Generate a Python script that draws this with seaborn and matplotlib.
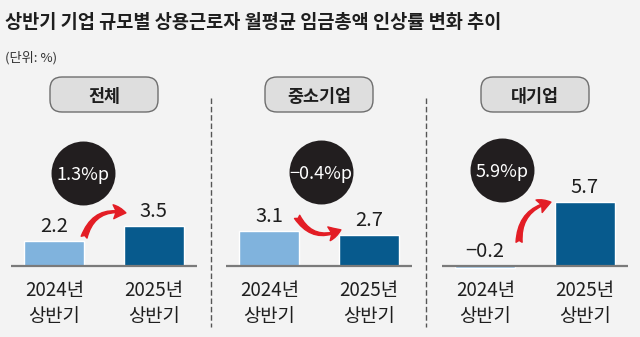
import matplotlib
matplotlib.use("Agg")
import matplotlib.pyplot as plt
from matplotlib.patches import FancyBboxPatch
from matplotlib.lines import Line2D
import seaborn as sns
import pandas as pd

# ---- data -------------------------------------------------------------
title = "상반기 기업 규모별 상용근로자 월평균 임금총액 인상률 변화 추이"
unit_note = "(단위: %)"
groups = ["전체", "중소기업", "대기업"]
periods = ["2024년\n상반기", "2025년\n상반기"]
rate_total = [2.2, 3.5]
rate_sme = [3.1, 2.7]
rate_large = [-0.2, 5.7]
group_values = [rate_total, rate_sme, rate_large]

# ---- style ------------------------------------------------------------
sns.set_theme(style="white")
FONTS = ["Noto Sans CJK KR", "DejaVu Sans"]
plt.rcParams["font.family"] = FONTS
plt.rcParams["axes.unicode_minus"] = True

BG = "#f3f3f3"
LIGHT = "#80b3dd"
DARK = "#075a8d"
RED = "#e31d25"
INK = "#1e1e1e"

W, H = 640, 337
fig = plt.figure(figsize=(W / 100, H / 100), dpi=100, facecolor=BG)

PX_PER_UNIT = 11.3
Y_MIN, Y_MAX = -1.0, 11.0
BASE_PX = 266  # zero line, from top
ax_h = (Y_MAX - Y_MIN) * PX_PER_UNIT
ax_bottom_px = BASE_PX - Y_MIN * PX_PER_UNIT
AX_W = 186
lefts = [11, 226, 442]
BAR_STEP = 99

# bubble / arrow placement for each panel (data units of its axes)
bubble_xy = [(0.29, 8.2), (0.52, 8.35), (0.17, 8.5)]
arrow_paths = [
    ((0.30, 2.55), (0.72, 4.70), -0.45),
    ((0.28, 4.35), (0.72, 3.20), 0.45),
    ((0.34, 2.10), (0.66, 5.65), -0.40),
]


def fmt(v):
    s = f"{v:.1f}"
    return s.replace("-", "\u2212")


for i, (name, vals) in enumerate(zip(groups, group_values)):
    ax = fig.add_axes([lefts[i] / W, (H - ax_bottom_px) / H, AX_W / W, ax_h / H])
    ax.set_facecolor(BG)
    df = pd.DataFrame({"period": periods, "rate": vals})
    sns.barplot(data=df, x="period", y="rate", hue="period",
                palette=[LIGHT, DARK], width=0.6, saturation=1,
                legend=False, ax=ax, zorder=2)
    ax.set_xlim(-43 / BAR_STEP, 1 + 43 / BAR_STEP)
    ax.set_ylim(Y_MIN, Y_MAX)
    ax.axhline(0, color="#7a7a7a", lw=1.6, zorder=3)
    for s in ax.spines.values():
        s.set_visible(False)
    ax.set_yticks([])
    ax.set_xlabel("")
    ax.set_ylabel("")
    ax.tick_params(axis="x", length=0, pad=2, labelsize=13.5, labelcolor=INK)
    for lab in ax.get_xticklabels():
        lab.set_linespacing(1.3)

    # value labels
    for x, v in enumerate(vals):
        ax.annotate(fmt(v), xy=(x, max(v, 0)), xytext=(0, 6.5),
                    textcoords="offset points", ha="center", va="baseline",
                    fontsize=14.5, color=INK, zorder=4)

    # change bubble
    diff = round(vals[1] - vals[0], 1)
    bx, by = bubble_xy[i]
    ax.scatter([bx], [by], s=2120, color="#221e1f", zorder=5, clip_on=False,
               linewidths=0)
    ax.text(bx, by, fmt(diff) + "%p", ha="center", va="center_baseline",
            fontsize=13, fontweight="medium", color="white", zorder=6,
            clip_on=False)

    # curved arrow
    (x0, y0), (x1, y1), rad = arrow_paths[i]
    ax.annotate("", xy=(x1, y1), xytext=(x0, y0),
                arrowprops=dict(arrowstyle="fancy,head_length=0.45,head_width=0.5,tail_width=0.22",
                                connectionstyle=f"arc3,rad={rad}", color=RED,
                                shrinkA=0, shrinkB=0, mutation_scale=20),
                zorder=4)

    # panel heading box
    cx = lefts[i] + AX_W / 2
    box_w, box_top, box_bot = 108, 77, 112
    box = FancyBboxPatch(((cx - box_w / 2) / 100, (H - box_bot) / 100),
                         box_w / 100, (box_bot - box_top) / 100,
                         boxstyle="round,pad=0,rounding_size=0.12",
                         transform=fig.dpi_scale_trans, fc="#dedede",
                         ec="#6e6e6e", lw=1.0)
    fig.add_artist(box)
    fig.text(cx / W, 1 - (box_top + box_bot) / 2 / H, name, ha="center",
             va="center_baseline", fontsize=12.5, fontweight="bold", color=INK)

# dashed dividers between panels
for xpx in (211, 426):
    fig.add_artist(Line2D([xpx / W, xpx / W], [1 - 98 / H, 1 - 327 / H],
                          transform=fig.transFigure, color="#555555",
                          lw=1.0, linestyle=(0, (4, 2))))

fig.text(5 / W, 1 - 21 / H, title, ha="left", va="center_baseline",
         fontsize=13.4, fontweight="heavy", color=INK)
fig.text(5 / W, 1 - 56 / H, unit_note, ha="left", va="center_baseline",
         fontsize=9.5, color="#333333")

fig.savefig("out.png", dpi=100, facecolor=BG)
